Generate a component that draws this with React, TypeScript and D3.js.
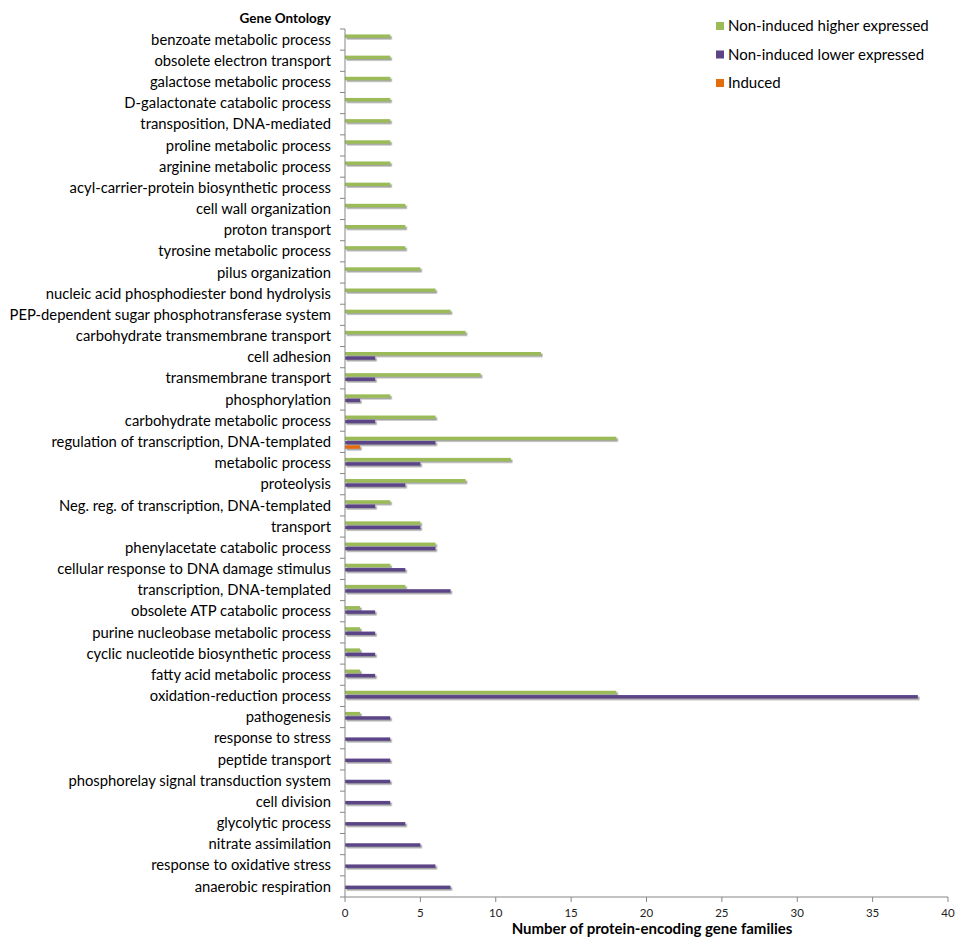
import { useEffect, useRef } from "react"
import * as d3 from "d3"

const categories = [
  "benzoate metabolic process",
  "obsolete electron transport",
  "galactose metabolic process",
  "D-galactonate catabolic process",
  "transposition, DNA-mediated",
  "proline metabolic process",
  "arginine metabolic process",
  "acyl-carrier-protein biosynthetic process",
  "cell wall organization",
  "proton transport",
  "tyrosine metabolic process",
  "pilus organization",
  "nucleic acid phosphodiester bond hydrolysis",
  "PEP-dependent sugar phosphotransferase system",
  "carbohydrate transmembrane transport",
  "cell adhesion",
  "transmembrane transport",
  "phosphorylation",
  "carbohydrate metabolic process",
  "regulation of transcription, DNA-templated",
  "metabolic process",
  "proteolysis",
  "Neg. reg. of transcription, DNA-templated",
  "transport",
  "phenylacetate catabolic process",
  "cellular response to DNA damage stimulus",
  "transcription, DNA-templated",
  "obsolete ATP catabolic process",
  "purine nucleobase metabolic process",
  "cyclic nucleotide biosynthetic process",
  "fatty acid metabolic process",
  "oxidation-reduction process",
  "pathogenesis",
  "response to stress",
  "peptide transport",
  "phosphorelay signal transduction system",
  "cell division",
  "glycolytic process",
  "nitrate assimilation",
  "response to oxidative stress",
  "anaerobic respiration",
]

const higherExpressed = [
  3, 3, 3, 3, 3, 3, 3, 3, 4, 4, 4, 5, 6, 7, 8, 13, 9, 3, 6, 18, 11, 8, 3, 5, 6,
  3, 4, 1, 1, 1, 1, 18, 1, 0, 0, 0, 0, 0, 0, 0, 0,
]

const lowerExpressed = [
  0, 0, 0, 0, 0, 0, 0, 0, 0, 0, 0, 0, 0, 0, 0, 2, 2, 1, 2, 6, 5, 4, 2, 5, 6,
  4, 7, 2, 2, 2, 2, 38, 3, 3, 3, 3, 3, 4, 5, 6, 7,
]

const induced = [
  0, 0, 0, 0, 0, 0, 0, 0, 0, 0, 0, 0, 0, 0, 0, 0, 0, 0, 0, 1, 0, 0, 0, 0, 0,
  0, 0, 0, 0, 0, 0, 0, 0, 0, 0, 0, 0, 0, 0, 0, 0,
]

const seriesNames = [
  "Non-induced higher expressed",
  "Non-induced lower expressed",
  "Induced",
]
const seriesColors = ["#9bbb59", "#5c4587", "#e46c0a"]
const xTicks = [0, 5, 10, 15, 20, 25, 30, 35, 40]

const FONT = "Lato, 'Open Sans', sans-serif"

export default function App() {
  const svgRef = useRef<SVGSVGElement>(null)

  useEffect(() => {
    if (!svgRef.current) return
    const svg = d3.select(svgRef.current)
    svg.selectAll("*").remove()

    const width = 964
    const height = 943
    svg.attr("width", width).attr("height", height)

    // Shadow for bars
    const defs = svg.append("defs")
    defs
      .append("filter")
      .attr("id", "barShadow")
      .attr("x", "-5%")
      .attr("y", "-50%")
      .attr("width", "115%")
      .attr("height", "250%")
      .append("feDropShadow")
      .attr("dx", 1.6)
      .attr("dy", 1.6)
      .attr("stdDeviation", 0.6)
      .attr("flood-color", "#666")
      .attr("flood-opacity", 0.6)

    const x = d3.scaleLinear().domain([0, 40]).range([345, 948])
    const y = d3.scaleBand<string>().domain(categories).range([29, 897])

    const sub = d3
      .scaleBand<number>()
      .domain([0, 1, 2])
      .range([0, y.bandwidth()])
      .paddingInner(0.2)
      .paddingOuter(1.05)
      .align(0.6)

    const values = [higherExpressed, lowerExpressed, induced]

    // Bars
    const groups = svg
      .append("g")
      .selectAll("g.cat")
      .data(categories)
      .enter()
      .append("g")
      .attr("class", "cat")
      .attr("transform", d => `translate(0,${y(d)})`)

    values.forEach((vals, s) => {
      groups
        .filter((_, i) => vals[i] > 0)
        .append("rect")
        .attr("x", x(0))
        .attr("y", sub(s)!)
        .attr("width", d => x(vals[categories.indexOf(d)]) - x(0))
        .attr("height", sub.bandwidth())
        .attr("fill", seriesColors[s])
        .attr("filter", "url(#barShadow)")
    })

    // Y axis
    const axisColor = "#868686"
    svg
      .append("line")
      .attr("x1", x(0))
      .attr("x2", x(0))
      .attr("y1", 29)
      .attr("y2", 897)
      .attr("stroke", axisColor)

    const boundaries = categories.map(c => y(c)!).concat([897])
    svg
      .append("g")
      .selectAll("line")
      .data(boundaries)
      .enter()
      .append("line")
      .attr("x1", x(0) - 5)
      .attr("x2", x(0))
      .attr("y1", d => d)
      .attr("y2", d => d)
      .attr("stroke", axisColor)

    svg
      .append("g")
      .selectAll("text")
      .data(categories)
      .enter()
      .append("text")
      .attr("x", 331)
      .attr("y", d => y(d)! + y.bandwidth() / 2)
      .attr("dy", "0.35em")
      .attr("text-anchor", "end")
      .attr("font-family", FONT)
      .attr("font-size", "14.8px")
      .attr("fill", "#000")
      .text(d => d)

    svg
      .append("text")
      .attr("x", 331)
      .attr("y", 18)
      .attr("dy", "0.35em")
      .attr("text-anchor", "end")
      .attr("font-family", FONT)
      .attr("font-size", "13.5px")
      .attr("font-weight", "bold")
      .text("Gene Ontology")

    // X axis
    svg
      .append("line")
      .attr("x1", x(0))
      .attr("x2", x(40))
      .attr("y1", 897)
      .attr("y2", 897)
      .attr("stroke", axisColor)

    svg
      .append("g")
      .selectAll("line")
      .data(xTicks)
      .enter()
      .append("line")
      .attr("x1", d => x(d))
      .attr("x2", d => x(d))
      .attr("y1", 897)
      .attr("y2", 902)
      .attr("stroke", axisColor)

    svg
      .append("g")
      .selectAll("text")
      .data(xTicks)
      .enter()
      .append("text")
      .attr("x", d => x(d))
      .attr("y", 913)
      .attr("dy", "0.35em")
      .attr("text-anchor", "middle")
      .attr("font-family", FONT)
      .attr("font-size", "11.5px")
      .attr("fill", "#222")
      .text(d => d)

    svg
      .append("text")
      .attr("x", 652)
      .attr("y", 929)
      .attr("dy", "0.35em")
      .attr("text-anchor", "middle")
      .attr("font-family", FONT)
      .attr("font-size", "15px")
      .attr("font-weight", "bold")
      .text("Number of protein-encoding gene families")

    // Legend
    const legend = svg
      .append("g")
      .selectAll("g")
      .data(seriesNames)
      .enter()
      .append("g")
      .attr("transform", (_, i) => `translate(716, ${26 + i * 28.5})`)

    legend
      .append("rect")
      .attr("x", 0)
      .attr("y", -4)
      .attr("width", 8)
      .attr("height", 8)
      .attr("fill", (_, i) => seriesColors[i])

    legend
      .append("text")
      .attr("x", 12)
      .attr("y", 0)
      .attr("dy", "0.35em")
      .attr("font-family", FONT)
      .attr("font-size", "15px")
      .text(d => d)
  }, [])

  return (
    <svg
      ref={svgRef}
      style={{ position: "absolute", left: 0, top: 0, background: "#fff" }}
    />
  )
}
